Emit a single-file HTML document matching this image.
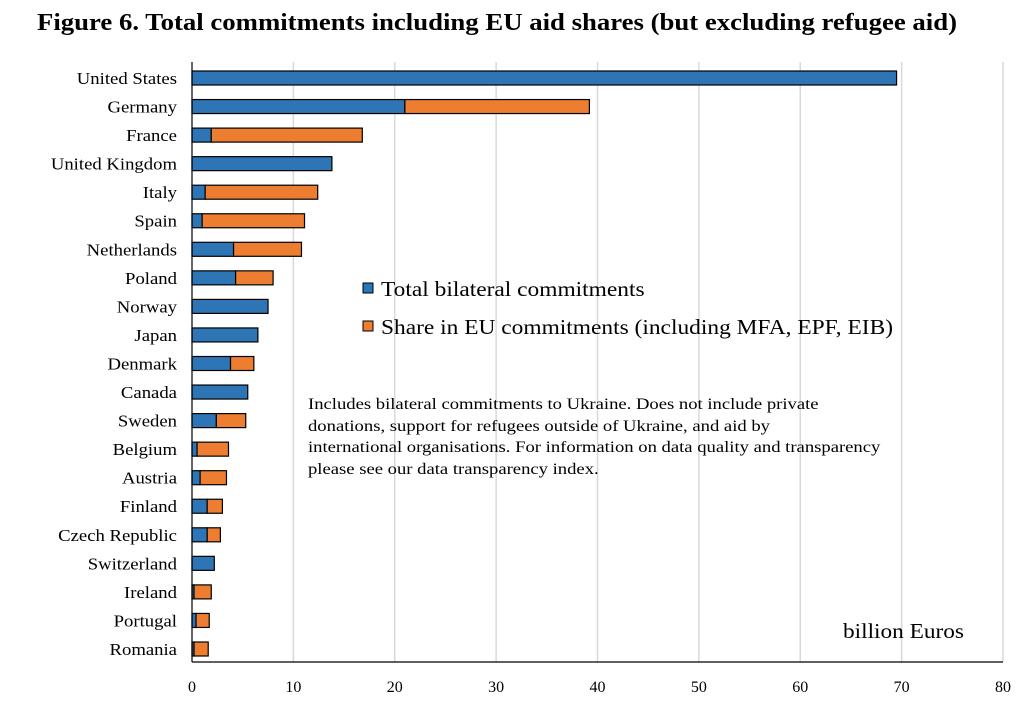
<!DOCTYPE html>
<html><head><meta charset="utf-8"><style>
body{margin:0;background:#fff;}
svg text{font-family:"Liberation Serif",serif;fill:#000;}
</style></head><body>
<svg width="1027" height="707" xmlns="http://www.w3.org/2000/svg">
<text x="37" y="30" font-size="24" font-weight="bold" textLength="920" lengthAdjust="spacingAndGlyphs">Figure 6. Total commitments including EU aid shares (but excluding refugee aid)</text>
<g id="grid"></g>
<g id="bars"></g>
<g id="labels"></g>
<g id="ylabels" transform="translate(177,0) scale(1.1,1) translate(-177,0)"></g>
<line x1="192" y1="62" x2="192" y2="662" stroke="#000" stroke-width="1.2"/>
<line x1="192" y1="662" x2="1003" y2="662" stroke="#000" stroke-width="1.2"/>
<g>
<rect x="363" y="283" width="10" height="10" fill="#2e75b6" stroke="#000"/>
<rect x="363" y="321" width="10" height="10" fill="#ed7d31" stroke="#000"/>
<g transform="translate(381,0) scale(1.115,1) translate(-381,0)">
<text x="381" y="296" font-size="21">Total bilateral commitments</text>
<text x="381" y="334" font-size="21">Share in EU commitments (including MFA, EPF, EIB)</text>
</g>
</g>
<g font-size="16" transform="translate(308,0) scale(1.165,1) translate(-308,0)">
<text x="308" y="409">Includes bilateral commitments to Ukraine. Does not include private</text>
<text x="308" y="431">donations, support for refugees outside of Ukraine, and aid by</text>
<text x="308" y="452">international organisations. For information on data quality and transparency</text>
<text x="308" y="474">please see our data transparency index.</text>
</g>
<g transform="translate(964,0) scale(1.11,1) translate(-964,0)">
<text x="964" y="638" text-anchor="end" font-size="21">billion Euros</text>
</g>
</svg>
<script>
const countries=["United States","Germany","France","United Kingdom","Italy","Spain","Netherlands","Poland","Norway","Japan","Denmark","Canada","Sweden","Belgium","Austria","Finland","Czech Republic","Switzerland","Ireland","Portugal","Romania"];
const bilateral=[69.5,21.0,1.9,13.8,1.3,1.0,4.1,4.3,7.5,6.5,3.8,5.5,2.4,0.5,0.8,1.5,1.5,2.2,0.2,0.4,0.2];
const euShare=[0,18.2,14.9,0,11.1,10.1,6.7,3.7,0,0,2.3,0,2.9,3.1,2.6,1.5,1.3,0,1.7,1.3,1.4];
const xTicks=[0,10,20,30,40,50,60,70,80];
const NS="http://www.w3.org/2000/svg";
const x=v=>192+v*(811/80);
const y=i=>78+i*28.55;
const mk=(t,a,p)=>{const e=document.createElementNS(NS,t);for(const k in a)e.setAttribute(k,a[k]);document.getElementById(p).appendChild(e);return e;};
xTicks.forEach(t=>{
 if(t>0){const g=mk('line',{x1:x(t),x2:x(t),y1:62,y2:662,stroke:'#d9d9d9','stroke-width':1.5},'grid');
 
 }
 const l=mk('text',{x:x(t),y:692,'text-anchor':'middle','font-size':16},'labels');l.textContent=t;
 
 
});
countries.forEach((c,i)=>{
 const l=mk('text',{x:177,y:y(i)+6,'text-anchor':'end','font-size':17},'ylabels');l.textContent=c;
 
 
 const b=mk('rect',{x:x(0),y:y(i)-7,width:x(bilateral[i])-x(0),height:14,fill:'#2e75b6',stroke:'#000','stroke-width':1.2},'bars');
 
 
 if(euShare[i]>0){
 const o=mk('rect',{x:x(bilateral[i]),y:y(i)-7,width:x(bilateral[i]+euShare[i])-x(bilateral[i]),height:14,fill:'#ed7d31',stroke:'#000','stroke-width':1.2},'bars');
 
 }
});
</script>
</body></html>
